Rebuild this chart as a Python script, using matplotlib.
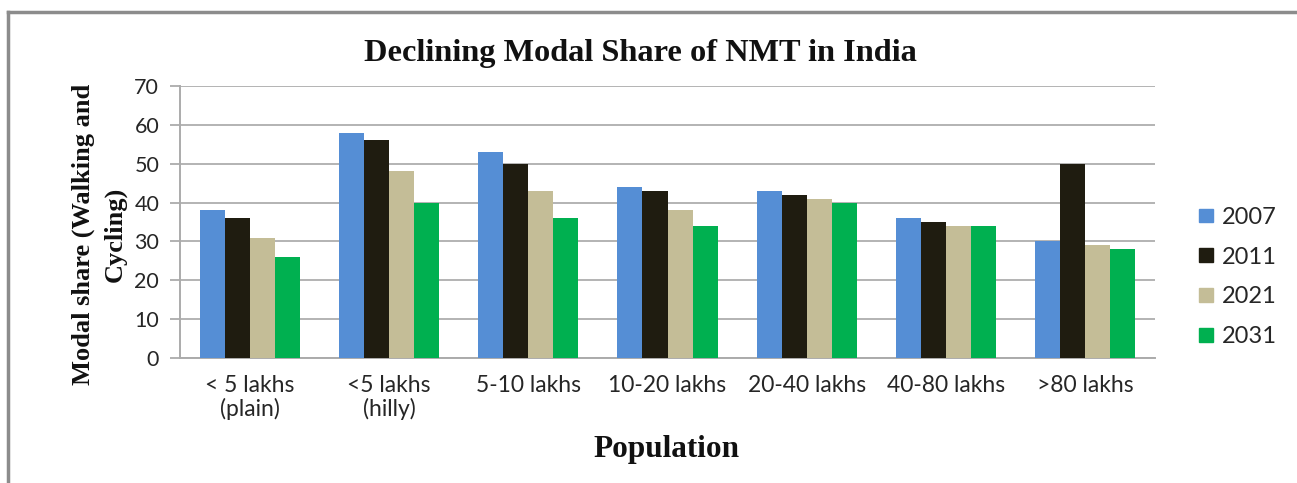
import matplotlib
matplotlib.use("Agg")
import matplotlib.pyplot as plt
import numpy as np
from matplotlib.lines import Line2D

categories = ["< 5 lakhs\n(plain)", "<5 lakhs\n(hilly)", "5-10 lakhs", "10-20 lakhs",
              "20-40 lakhs", "40-80 lakhs", ">80 lakhs"]
years = ["2007", "2011", "2021", "2031"]
v2007 = [38, 58, 53, 44, 43, 36, 30]
v2011 = [36, 56, 50, 43, 42, 35, 50]
v2021 = [31, 48, 43, 38, 41, 34, 29]
v2031 = [26, 40, 36, 34, 40, 34, 28]
yticks = [0, 10, 20, 30, 40, 50, 60, 70]

series = [v2007, v2011, v2021, v2031]
colors = ["#558ED5", "#1F1C10", "#C4BD97", "#00B050"]

W, H = 1297, 483
fig = plt.figure(figsize=(W / 100, H / 100), dpi=100)
fig.patch.set_facecolor("white")

ax = fig.add_axes([180 / W, 1 - 358 / H, (1155 - 180) / W, (358 - 86) / H])
x = np.arange(len(categories))
bw = 0.18
offsets = [-1.5 * bw, -0.5 * bw, 0.5 * bw, 1.5 * bw]
for vals, c, off, yr in zip(series, colors, offsets, years):
    ax.bar(x + off, vals, width=bw, color=c, label=yr, zorder=3, linewidth=0)

ax.set_xlim(-0.5, len(categories) - 0.5)
ax.set_ylim(0, 70)
ax.set_yticks(yticks)
ax.set_xticks(x)
ax.set_xticklabels(categories, fontfamily="Lato", fontsize=16.5, color="#262626",
                   linespacing=1.1)
ax.tick_params(axis="x", length=0, pad=12)
ax.tick_params(axis="y", length=7, width=1.3, color="#ABABAB", pad=8,
               labelsize=15.5, labelcolor="#262626")
for lab in ax.get_yticklabels():
    lab.set_fontfamily("Lato")
ax.grid(axis="y", color="#B3B3B3", linewidth=1.4, zorder=0)
for s in ["top", "right"]:
    ax.spines[s].set_visible(False)
ax.spines["left"].set_color("#ABABAB")
ax.spines["left"].set_linewidth(1.4)
ax.spines["bottom"].set_color("#ABABAB")
ax.spines["bottom"].set_linewidth(1.4)

fig.text(640 / W, 1 - 54 / H, "Declining Modal Share of NMT in India",
         fontfamily="Liberation Serif", fontweight="bold", fontsize=23.3,
         ha="center", va="center", color="#111111")
fig.text(99 / W, 1 - 234 / H, "Modal share (Walking and\nCycling)",
         fontfamily="Liberation Serif", fontweight="bold", fontsize=19,
         rotation=90, ha="center", va="center", multialignment="center",
         linespacing=1.45, color="#111111")
fig.text(666 / W, 1 - 449 / H, "Population",
         fontfamily="Liberation Serif", fontweight="bold", fontsize=22.5,
         ha="center", va="center", color="#111111")

handles = [plt.Rectangle((0, 0), 1, 1, color=c) for c in colors]
leg = fig.legend(handles, years, loc="center left",
                 bbox_to_anchor=(1178 / W, 1 - 277 / H), frameon=False,
                 prop={"family": "Lato", "size": 17}, handlelength=0.6,
                 handleheight=0.5, handletextpad=0.35, labelspacing=0.8)
for t in leg.get_texts():
    t.set_color("#262626")

# outer frame (page border)
fig.add_artist(Line2D([8 / W, 1.0], [1 - 12 / H, 1 - 12 / H], color="#8C8C8C",
                      linewidth=2.5, transform=fig.transFigure))
fig.add_artist(Line2D([8 / W, 8 / W], [0, 1 - 12 / H], color="#8C8C8C",
                      linewidth=2.5, transform=fig.transFigure))

fig.savefig("out.png", dpi=100, facecolor="white")
